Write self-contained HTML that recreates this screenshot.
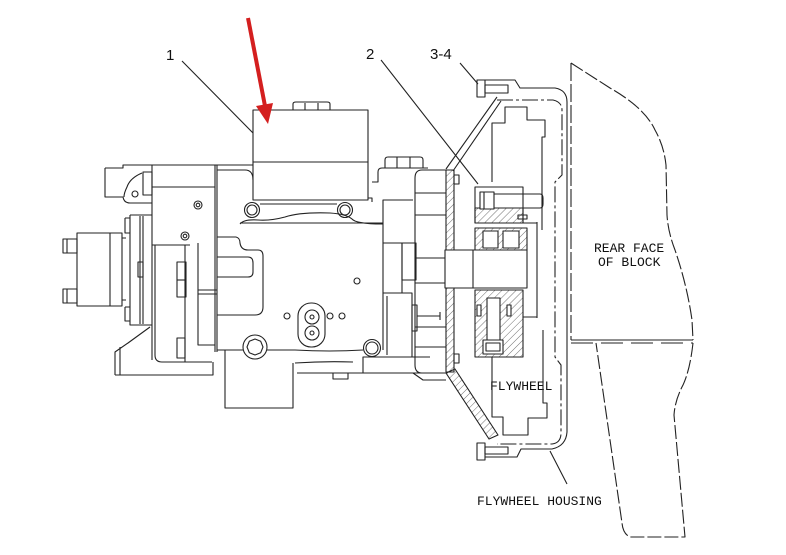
<!DOCTYPE html>
<html><head><meta charset="utf-8"><style>
html,body{margin:0;padding:0;background:#fff;}
svg{display:block;}
.t{font-family:"Liberation Mono","DejaVu Sans Mono",monospace;font-size:13px;fill:#111;}
.n{font-family:"Liberation Sans",Arial,sans-serif;font-size:15px;fill:#111;}
</style></head><body>
<svg width="786" height="555" viewBox="0 0 786 555" xmlns="http://www.w3.org/2000/svg">
<defs>
<pattern id="h" patternUnits="userSpaceOnUse" width="5" height="5" patternTransform="rotate(45)"><line x1="0" y1="0" x2="0" y2="5" stroke="#333" stroke-width="0.7"/></pattern>
</defs>
<rect width="786" height="555" fill="#fff"/>

<!-- labels -->
<text class="n" x="166" y="60">1</text>
<text class="n" x="366" y="59">2</text>
<text class="n" x="430" y="59">3-4</text>
<text class="t" x="594" y="252">REAR FACE</text>
<text class="t" x="598" y="266">OF BLOCK</text>
<text class="t" x="490" y="390">FLYWHEEL</text>
<text class="t" x="477" y="505">FLYWHEEL HOUSING</text>

<g fill="none" stroke="#222" stroke-width="1.1" stroke-linejoin="round">
<!-- leaders -->
<path d="M182,61 L253,133 M381,60 L478,184 M460,63 L478,84 M550,451 L567,484"/>

<!-- ===== left solenoid ===== -->
<rect x="77" y="233" width="45" height="73"/>
<line x1="110" y1="233" x2="110" y2="306"/>
<rect x="63" y="239" width="14" height="14"/>
<line x1="67" y1="239" x2="67" y2="253"/>
<rect x="63" y="289" width="14" height="14"/>
<line x1="67" y1="289" x2="67" y2="303"/>
<!-- plate -->
<path d="M130,215 H152 M130,215 V325 H152 M140,216 V324 M143,216 V324"/>
<path d="M125,218 H130 M125,218 V233 H130 M125,307 H130 M125,307 V321 H130"/>
<rect x="138" y="262" width="5" height="15"/>
<path d="M122,238 H126 M122,300 H126"/>

<!-- upper-left bracket -->
<path d="M105,168 H123 V165 H253"/>
<path d="M105,168 V197 H123 Q124,203 130,203 H152"/>
<path d="M142,173 Q130,178 127,187 Q124,193 124,197"/>
<circle cx="135" cy="194" r="3"/>
<rect x="143" y="172" width="9" height="23"/>
<path d="M152,165 V360 M215,165 V352 M217,165 V352"/>
<path d="M152,187 H215 M152,245 H190"/>
<circle cx="198" cy="205" r="4"/><circle cx="198" cy="205" r="1.8"/>
<circle cx="185" cy="236" r="4"/><circle cx="185" cy="236" r="1.8"/>

<!-- lower-left column -->
<path d="M155,245 V355 Q155,362 162,362 H212"/>
<path d="M185,245 V362 M198,243 V345 H215"/>
<rect x="177" y="262" width="9" height="35"/>
<line x1="177" y1="280" x2="186" y2="280"/>
<rect x="177" y="338" width="8" height="20"/>
<path d="M198,290 H217 M198,294 H217 M217,315 H240"/>
<!-- base -->
<path d="M115,375 V352 L128,343 L150,327 M120,347 V375 M115,375 H213 V362"/>
<path d="M217,350 H225 V408 H293 V363"/>

<!-- ===== top box (part 1) ===== -->
<rect x="253" y="110" width="115" height="90"/>
<line x1="253" y1="162" x2="368" y2="162"/>
<path d="M293,110 V104 Q293,102 296,102 H327 Q330,102 330,104 V110 M305,103 V110 M318,103 V110"/>
<path d="M368,198 H372 V202"/>
<path d="M217,170 H245 Q253,170 253,180"/>

<!-- bolts under box -->
<circle cx="252" cy="210" r="7.5"/><circle cx="252" cy="210" r="5"/>
<circle cx="345" cy="210" r="7.5"/><circle cx="345" cy="210" r="5"/>
<path d="M260,204 H337"/>
<path d="M240,224 Q244,219 258,220 Q270,221 285,217 Q300,212 330,213 Q346,214 352,219 Q356,224 383,224"/>

<!-- main body -->
<path d="M240,223 H383 V350"/>
<path d="M217,237 H236 Q240,238 240,243 Q241,250 248,250 H258 Q263,250 263,256 V307 Q263,315 255,315 H217"/>
<path d="M217,257 H248 Q253,257 253,263 V272 Q253,277 248,277 H217"/>
<path d="M217,350 H243 M267,350 H295 Q330,352 363,350"/>
<path d="M295,363 Q325,361 353,362 M297,373 H363 V357 H430 M363,373 H430"/>
<rect x="333" y="373" width="15" height="6"/>
<circle cx="255" cy="347" r="12"/>
<polygon points="263,347 260.7,352.7 255,355 249.3,352.7 247,347 249.3,341.3 255,339 260.7,341.3"/>
<circle cx="372" cy="348" r="8.5"/><circle cx="372" cy="348" r="6"/>
<rect x="298" y="303" width="27" height="44" rx="13"/>
<circle cx="312" cy="317" r="7"/><circle cx="312" cy="317" r="2"/>
<circle cx="312" cy="333" r="7"/><circle cx="312" cy="333" r="2"/>
<circle cx="287" cy="316" r="3"/><circle cx="330" cy="316" r="3"/>
<circle cx="342" cy="316" r="3"/><circle cx="357" cy="281" r="3"/>

<!-- right section -->
<path d="M383,243 H402 V293 M383,293 H412 V357 M387,296 V355"/>
<rect x="402" y="243" width="14" height="37"/>
<rect x="412" y="305" width="5" height="26"/>
<path d="M417,316 H440 M440,312 V320"/>
<path d="M385,168 V160 Q385,157 388,157 H420 Q423,157 423,160 V168 M397,157 V168 M410,157 V168"/>
<path d="M372,182 H378 V172 Q378,168 382,168 H428"/>
<path d="M383,223 V200 H413"/>

<!-- adapter plate -->
<path d="M446,170 H422 Q415,170 415,178 V365 Q415,373 422,373 H446"/>
<path d="M415,193 H446 M415,215 H446 M415,258 H446 M415,283 H446 M415,327 H446 M415,347 H446"/>
<path d="M413,373 L423,380 H446"/>

<!-- housing wall hatched -->
<polygon points="446,170 454,170 454,372 446,372" fill="url(#h)"/>
<path d="M446,169 L497,97 M453,171 L501,101"/>
<polygon points="446,373 455,369 498,435 489,439" fill="url(#h)"/>
<rect x="454" y="175" width="5" height="9"/>
<rect x="454" y="354" width="5" height="9"/>

<!-- housing bolts -->
<rect x="477" y="80" width="8" height="17"/>
<rect x="485" y="85" width="23" height="8"/>
<rect x="477" y="443" width="8" height="17"/>
<rect x="485" y="447" width="23" height="7"/>

<!-- housing outer -->
<path d="M485,80 H515 L520,88 H555 Q567,90 567,102 V432 Q566,446 552,449 H521 L517,457 H485"/>
<!-- housing inner dash-dot -->
<path d="M497,100 H553 Q562,102 562,110 V175 L555,182 V357 L561,365 V433 Q561,443 552,444 H497" stroke-dasharray="16 3 3 3"/>

<!-- flywheel -->
<path d="M492,182 V123 H505 V107 H527 V120 H545 V137 H542 V230"/>
<path d="M537,222 V318 M543,330 V403 H547 V418 H528 V435 H503 V417 H492 V357"/>
<path d="M523,223 H537 M523,317 H537"/>

<!-- hub -->
<rect x="475" y="187" width="48" height="36"/>
<rect x="475" y="208" width="48" height="15" fill="url(#h)"/>
<rect x="480" y="192" width="14" height="17" fill="#fff"/>
<line x1="484" y1="192" x2="484" y2="209"/>
<path d="M494,194 H540 Q543,194 543,198 V204 Q543,208 540,208 H494"/>
<rect x="518" y="215" width="9" height="4"/>
<rect x="475" y="228" width="52" height="22" fill="url(#h)"/>
<rect x="483" y="231" width="15" height="17" fill="#fff"/>
<rect x="503" y="231" width="16" height="17" fill="#fff"/>
<rect x="445" y="250" width="82" height="38" fill="#fff"/>
<line x1="473" y1="250" x2="473" y2="288"/>
<rect x="475" y="290" width="48" height="67" fill="url(#h)"/>
<rect x="487" y="298" width="13" height="42" fill="#fff"/>
<rect x="483" y="340" width="20" height="14" fill="#fff"/>
<rect x="486" y="343" width="14" height="8"/>
<rect x="477" y="305" width="4" height="11" fill="#fff"/>
<rect x="507" y="305" width="4" height="11" fill="#fff"/>
<path d="M477,357 H523"/>

<!-- rear face of block (dashed) -->
<path d="M571,63 V340" stroke-dasharray="18 3"/>
<path d="M571,63 L610,88 Q645,108 655,130 Q664,146 666,165 L667,215 Q668,232 675,250 Q687,285 692,320 L693,340" stroke-dasharray="14 3"/>
<path d="M571,340 H693"/>
<path d="M571,343 H693" stroke-dasharray="22 8"/>
<path d="M693,343 Q690,370 683,385 Q675,400 674,415 L685,537 H630 Q623,534 622,523 L596,343" stroke-dasharray="14 3"/>
</g>

<!-- red arrow -->
<line x1="248" y1="18" x2="265" y2="106" stroke="#d41f1f" stroke-width="4"/>
<polygon points="256,106 273,103 268,124" fill="#d41f1f"/>
</svg>
</body></html>
